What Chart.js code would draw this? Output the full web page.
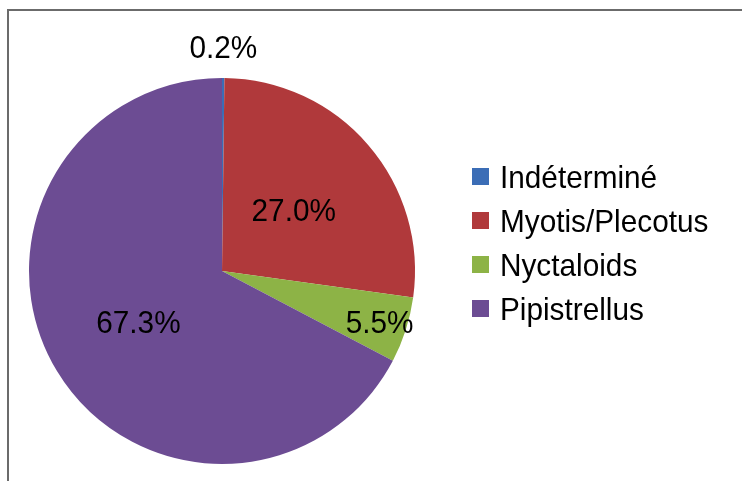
<!DOCTYPE html>
<html>
<head>
<meta charset="utf-8">
<script src="https://cdn.jsdelivr.net/npm/chart.js@4"></script>
<style>
  html, body { margin: 0; padding: 0; background: #fff; }
  #wrap { position: relative; width: 742px; height: 481px; overflow: hidden; }
  #frame { position: absolute; left: 7px; top: 9px; width: 760px; height: 500px; border: 2px solid #6b6b6b; box-sizing: border-box; }
  canvas { position: absolute; left: 0; top: 0; }
</style>
</head>
<body>
<div id="wrap">
  <div id="frame"></div>
  <canvas id="pie" width="742" height="481"></canvas>
</div>
<script>
// Data
const categories = ['Indéterminé', 'Myotis/Plecotus', 'Nyctaloids', 'Pipistrellus'];
const shares = [0.2, 27.0, 5.5, 67.3];
const percentLabels = ['0.2%', '27.0%', '5.5%', '67.3%'];

// Styles
const sliceColors = ['#3b6db6', '#b0393b', '#8db346', '#6c4c93'];
const labelRadius = [1.163, 0.49, 0.858, 0.506]; // fraction of pie radius
const FONT = '32px "Liberation Sans", Arial, sans-serif';
const SQUEEZE = 0.93; // text is a bit narrower than plain Arial
const CAP = 11.5;     // half cap height, to centre digits on a point

// draw text squeezed horizontally
function narrowText(c, text, x, y, align) {
    const w = c.measureText(text).width * SQUEEZE;
    let left = x;
    if (align === 'center') left = x - w / 2;
    c.save();
    c.translate(left, y);
    c.scale(SQUEEZE, 1);
    c.textAlign = 'left';
    c.fillText(text, 0, 0);
    c.restore();
}

// Draw percent labels and the legend on the canvas
const labelsAndLegend = {
    id: 'labelsAndLegend',
    afterDraw(chart) {
        const c = chart.ctx;
        const meta = chart.getDatasetMeta(0);
        c.save();
        c.fillStyle = '#000';
        c.font = FONT;
        c.textBaseline = 'alphabetic';
        meta.data.forEach((arc, i) => {
            const mid = (arc.startAngle + arc.endAngle) / 2;
            const r = arc.outerRadius * labelRadius[i];
            narrowText(c, percentLabels[i], arc.x + Math.cos(mid) * r, arc.y + Math.sin(mid) * r + CAP, 'center');
        });

        // legend
        const lx = 472, ly = 176.5, gap = 44, box = 17;
        chart.data.labels.forEach((lab, i) => {
            const y = ly + i * gap;
            c.fillStyle = sliceColors[i];
            c.fillRect(lx, y - box / 2, box, box);
            c.fillStyle = '#000';
            narrowText(c, lab, 500, y + CAP, 'left');
        });
        c.restore();
    }
};

new Chart(document.getElementById('pie'), {
    type: 'pie',
    data: {
        labels: categories,
        datasets: [{
            data: shares,
            backgroundColor: sliceColors,
            borderWidth: 0
        }]
    },
    options: {
        responsive: false,
        animation: false,
        layout: { padding: { left: 29, right: 327, top: 78, bottom: 17 } },
        plugins: {
            legend: { display: false },
            tooltip: { enabled: false }
        }
    },
    plugins: [labelsAndLegend]
});
</script>
</body>
</html>
